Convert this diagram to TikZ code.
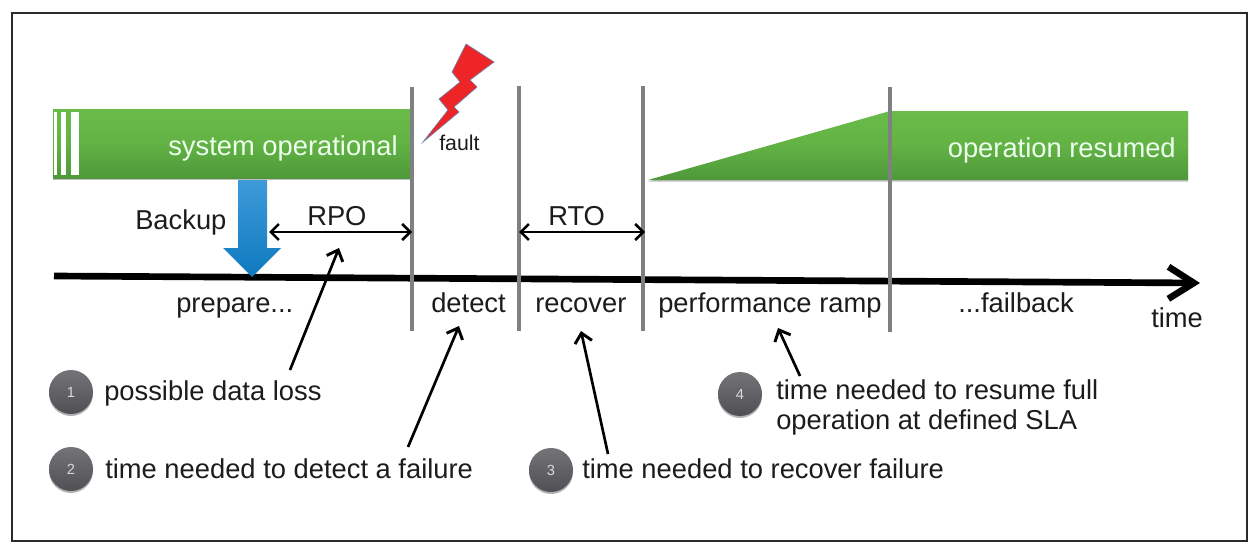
\documentclass[tikz,border=0pt]{standalone}
\usepackage{fontspec}
\setmainfont{Liberation Sans}
\usetikzlibrary{arrows.meta,shadows}
\definecolor{ink}{HTML}{1C1C1C}
\definecolor{frameC}{HTML}{2A2A2A}
\definecolor{greyLine}{HTML}{808080}
\definecolor{gTop}{HTML}{69BC49}
\definecolor{gMid}{HTML}{62B244}
\definecolor{gBot}{HTML}{4E983B}
\definecolor{bTop}{HTML}{3F9BDA}
\definecolor{bBot}{HTML}{0E79BF}
\definecolor{cTop}{HTML}{747478}
\definecolor{cBot}{HTML}{505054}
\definecolor{boltR}{HTML}{EE2526}
\definecolor{boltE}{HTML}{6F7FA8}
\tikzset{
  lab/.style={anchor=base west,inner sep=0pt,text=ink,font=\fontsize{20.5}{24}\selectfont},
  wlab/.style={anchor=base east,inner sep=0pt,text=white!93!green,font=\fontsize{20.5}{24}\selectfont},
  greenbar/.style={top color=gTop,bottom color=gBot,middle color=gMid,draw=none,
     drop shadow={shadow xshift=0pt,shadow yshift=-1.2pt,opacity=.25,fill=black}},
  stripe/.style={fill=white,draw=none},
  vline/.style={draw=greyLine,line width=2.8pt},
  timeline/.style={draw=black,line width=5pt,-{Straight Barb[length=19pt,width=24pt,line width=5pt]}},
  span/.style={draw=black,line width=1.6pt,{Straight Barb[length=6pt,width=12pt,line width=1.9pt]}-{Straight Barb[length=6pt,width=12pt,line width=1.9pt]}},
  callout/.style={draw=black,line width=2pt,-{Straight Barb[length=7pt,width=13pt,line width=2.2pt]}},
  badge/.style={circle,minimum size=33pt,inner sep=0pt,top color=cTop,bottom color=cBot,text=white!85!black,
     font=\fontsize{11}{13}\selectfont,
     drop shadow={shadow xshift=0pt,shadow yshift=-1.5pt,opacity=.3,fill=black}},
}
\begin{document}
\begin{tikzpicture}[x=0.75pt,y=-0.75pt]
\useasboundingbox (0,0) rectangle (1260,560);
\fill[white] (0,0) rectangle (1260,560);
\draw[frameC,line width=1.1pt] (12,13) rectangle (1247,541);
% green bars
\path[greenbar] (53,109) -- (412,109) -- (412,178) -- (53,178) -- cycle;
\path[stripe] (54,112) rectangle (57,175);
\path[stripe] (61,112) rectangle (66,175);
\path[stripe] (71,112) rectangle (79,175);
\path[greenbar] (648,180) -- (890,111) -- (1188,111) -- (1188,180) -- cycle;
% named points
\coordinate (tl0) at (54,276);
\coordinate (tl1) at (1200,283);
\foreach \n/\x/\t/\b in {a/412/87/331,b/519/86/331,c/643/86/331,d/890/87/332}{
  \coordinate (\n t) at (\x,\t);
  \coordinate (\n b) at (\x,\b);
}
\draw[timeline] (tl0) -- (tl1);
\foreach \n in {a,b,c,d}{\draw[vline] (\n t) -- (\n b);}
% backup arrow
\path[top color=bTop,bottom color=bBot,draw=none]
  (238,180) -- (267,180) -- (267,248) -- (281,248) -- (252,277) -- (223,248) -- (238,248) -- cycle;
% bolt
\path[fill=boltR,draw=boltE,line width=.5pt]
  (466,44) -- (494,62) -- (470,80) -- (477,87) -- (454,107) -- (459,112) -- (423,142)
  -- (448,110) -- (439,99) -- (460,82) -- (452,72) -- cycle;
% labels
\node[wlab] (sys) at (398,155) {system operational};
\node[wlab] (res) at (1176,157) {operation resumed};
\node[lab,anchor=base west,font=\fontsize{16}{19}\selectfont] (fault) at (439,150) {fault};
\node[lab] (backup) at (135,229) {Backup};
\node[lab] (rpo) at (307,225) {RPO};
\node[lab] (rto) at (548,225) {RTO};
\node[lab] (prep) at (176,312) {prepare...};
\node[lab] (det) at (431,312) {detect};
\node[lab] (rec) at (535,312) {recover};
\node[lab] (perf) at (658,312) {performance ramp};
\node[lab] (fail) at (958,312) {...failback};
\node[lab] (time) at (1151,327) {time};
% spans
\coordinate (rpoL) at (269,232);
\coordinate (rpoR) at (412,232);
\coordinate (rtoL) at (519,232);
\coordinate (rtoR) at (645,232);
\draw[span] (rpoL) -- (rpoR);
\draw[span] (rtoL) -- (rtoR);
% badges
\node[badge] (n1) at (71,392) {1};
\node[badge] (n2) at (71,469) {2};
\node[badge] (n3) at (551,470) {3};
\node[badge] (n4) at (740,394) {4};
\node[lab] (t1) at (104,400) {possible data loss};
\node[lab] (t2) at (105,478) {time needed to detect a failure};
\node[lab] (t3) at (582,478) {time needed to recover failure};
\node[lab] (t4) at (776,399) {time needed to resume full};
\node[lab] (t5) at (776,429) {operation at defined SLA};
% callouts
\coordinate (c1s) at (290,370); \coordinate (c1e) at (339,248);
\coordinate (c2s) at (408,447); \coordinate (c2e) at (459,326);
\coordinate (c3s) at (608,454); \coordinate (c3e) at (581,331);
\coordinate (c4s) at (800,376); \coordinate (c4e) at (778,328);
\draw[callout] (c1s) -- (c1e);
\draw[callout] (c2s) -- (c2e);
\draw[callout] (c3s) -- (c3e);
\draw[callout] (c4s) -- (c4e);
\end{tikzpicture}
\end{document}
